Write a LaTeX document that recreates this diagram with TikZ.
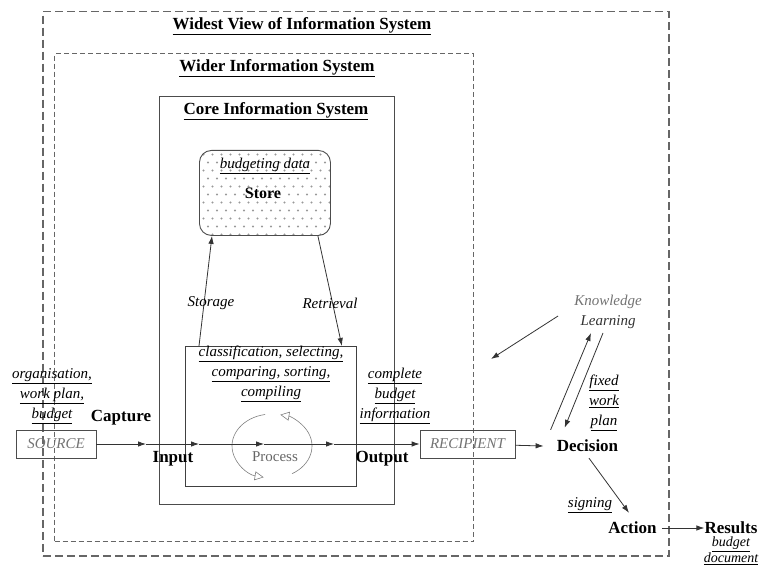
\documentclass[tikz,border=0pt]{standalone}
\usepackage{fontspec}
\setmainfont{Liberation Serif}
\usepackage{tikz}
\usetikzlibrary{arrows.meta}

\tikzset{
	frame/.style={draw=black!60, anchor=north west, inner sep=0pt},
	head/.style={font=\bfseries\fontsize{17}{20}\selectfont, inner sep=0pt},
	note/.style={font=\itshape\fontsize{15}{20}\selectfont, align=center, inner sep=0pt},
	stage/.style={font=\bfseries\fontsize{17}{20}\selectfont, inner sep=0pt},
	endbox/.style={draw=black!70, line width=0.8pt, minimum height=28pt, inner sep=0pt, font=\itshape\fontsize{15}{18}\selectfont, text=black!55},
	flow/.style={draw=black!80, line width=0.8pt, -{Latex[length=8pt,width=5.5pt]}},
	cycle/.style={draw=black!50, line width=0.6pt, -{Triangle[open,length=9pt,width=9pt]}}
}

\begin{document}
\begin{tikzpicture}[x=1pt,y=1pt]
	\useasboundingbox (0,0) rectangle (774,-567);

	% nested system frames
	\node[frame, dash pattern=on 8pt off 4pt, line width=1.5pt, minimum width=626pt, minimum height=544pt] (widest) at (42,-11) {};
	\node[frame, dash pattern=on 5pt off 3pt, line width=1.3pt, minimum width=419pt, minimum height=488pt] (wider) at (54,-53) {};
	\node[frame, draw=black!70, line width=1.1pt, minimum width=235pt, minimum height=408pt] (core) at (159,-96) {};

	\node[head] (tWidest) at (302,-26) {\underline{Widest View of Information System}};
	\node[head] (tWider) at (277,-68) {\underline{Wider Information System}};
	\node[head] (tCore) at (276,-111) {\underline{Core Information System}};

	% store with dotted fill
	\node[frame, draw=black!70, rounded corners=12pt, line width=0.9pt, minimum width=131pt, minimum height=85pt,
		path picture={
			\foreach \i in {0,...,14}
				\foreach \j in {0,...,10}
					\fill[black!40] ([shift={({4+\i*9+mod(\j,2)*4.5},{-4-\j*8})}]path picture bounding box.north west) circle (1.1pt);
		}] (store) at (199,-150) {};
	\node[note] (storeData) at (265,-166) {\underline{budgeting data}};
	\node[stage, font=\bfseries\fontsize{16}{20}\selectfont] (storeLbl) at (263,-193) {Store};

	% process
	\node[frame, draw=black!75, line width=0.9pt, minimum width=171pt, minimum height=140pt] (proc) at (185,-346) {};
	\node[note] (procTxt) at (271,-374) {\underline{classification, selecting,}\\\underline{comparing, sorting,}\\\underline{compiling}};
	\coordinate (pc) at (272,-446);
	\draw[cycle] (pc) ++(-60:40pt and 32pt) arc[start angle=-60, end angle=78, x radius=40pt, y radius=32pt];
	\draw[cycle] (pc) ++(100:40pt and 32pt) arc[start angle=100, end angle=258, x radius=40pt, y radius=32pt];
	\node[inner sep=0pt, text=black!60, font=\fontsize{15}{18}\selectfont] (procLbl) at (275,-457) {Process};

	\draw[flow] ([xshift=14pt]proc.north west) -- ([xshift=13pt]store.south west);
	\draw[flow] ([xshift=-13pt]store.south east) -- ([xshift=-15pt]proc.north east);
	\node[note] (storage) at (211,-303) {Storage};
	\node[note] (retrieval) at (330,-303) {Retrieval};

	% main flow line
	\node[endbox, minimum width=80pt] (src) at (56,-444) {SOURCE};
	\node[endbox, minimum width=95pt] (rec) at (467.5,-444) {RECIPIENT};
	\coordinate (capt) at (146,-444);
	\coordinate (inpt) at (199,-444);
	\coordinate (mid) at (264,-444);
	\coordinate (outp) at (334,-444);
	\draw[flow] (src) -- (capt);
	\draw[flow] (capt) -- (inpt);
	\draw[flow] (inpt) -- (mid);
	\draw[flow] (mid) -- (outp);
	\draw[flow] (outp) -- (rec);

	\node[note] (srcTxt) at (52,-396) {\underline{organisation,}\\\underline{work plan,}\\\underline{budget}};
	\node[stage] (capture) at (121,-418) {Capture};
	\node[stage] (input) at (173,-459) {Input};
	\node[stage] (output) at (382,-459) {Output};
	\node[note] (outTxt) at (395,-396) {\underline{complete}\\\underline{budget}\\\underline{information}};

	% decision side
	\node[stage] (dec) at (587.5,-446) {Decision};
	\node[note] (know) at (608,-312) {\textcolor{black!55}{Knowledge}\\\textcolor{black!80}{Learning}};
	\node[stage] (act) at (632.5,-528) {Action};
	\node[stage] (res) at (731,-528) {Results};
	\coordinate (fbk) at (491,-359);

	\draw[flow] (rec) -- ([xshift=-13pt]dec.west);
	\draw[flow] ([shift={(-16pt,-4pt)}]know.west) -- (fbk);
	\draw[flow] ([shift={(-6pt,10pt)}]dec.north west) -- ([shift={(-17pt,-4pt)}]know.south);
	\draw[flow] ([shift={(-5pt,-4pt)}]know.south) -- ([shift={(8pt,12pt)}]dec.north west);
	\draw[flow] ([shift={(1.5pt,-6pt)}]dec.south) -- ([shift={(-3.5pt,9pt)}]act.north);
	\draw[flow] ([xshift=5pt]act.east) -- (res.west);

	\node[note] (fixed) at (604,-403) {\underline{fixed}\\\underline{work}\\\underline{plan}};
	\node[note] (signing) at (590,-505) {\underline{signing}};
	\node[note, font=\itshape\fontsize{14}{13}\selectfont] (resTxt) at (731,-551) {\underline{budget}\\\underline{document}};
\end{tikzpicture}
\end{document}
